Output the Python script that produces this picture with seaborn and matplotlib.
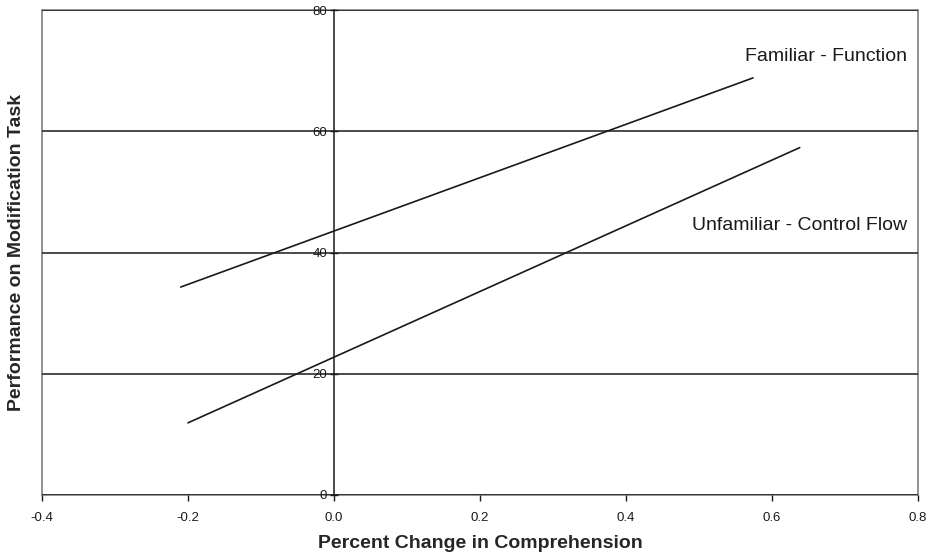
import matplotlib
matplotlib.use('Agg')
from matplotlib import pyplot as plt
import matplotlib.patches as patches
import pandas as pd
import seaborn as sns

# regression lines (end points)
series = ['Familiar - Function', 'Familiar - Function',
          'Unfamiliar - Control Flow', 'Unfamiliar - Control Flow']
pct_change = [-0.21, 0.574, -0.20, 0.638]
performance = [34.3, 68.8, 11.9, 57.3]

x_ticks = [-0.4, -0.2, 0.0, 0.2, 0.4, 0.6, 0.8]
x_labels = ['-0.4', '-0.2', '0.0', '0.2', '0.4', '0.6', '0.8']
y_ticks = [0, 20, 40, 60, 80]

df = pd.DataFrame({'series': series, 'x': pct_change, 'y': performance})

sns.set_style('white')
plt.rcParams['font.family'] = ['Liberation Sans', 'DejaVu Sans']

fig = plt.figure(figsize=(9.31, 5.59), dpi=100)
ax = fig.add_axes([0.0451, 0.1145, 0.9409, 0.8676])

for yv in y_ticks[1:]:
    ax.axhline(yv, color='#1a1a1a', lw=1.1, zorder=1)

sns.lineplot(data=df, x='x', y='y', units='series', estimator=None,
             color='#1a1a1a', lw=1.2, ax=ax, zorder=3)

ax.set_xlim(-0.4, 0.8)
ax.set_ylim(0, 80)
ax.set_xticks(x_ticks)
ax.set_xticklabels(x_labels)
ax.set_yticks(y_ticks)

for s in ['top', 'right', 'bottom']:
    ax.spines[s].set_visible(False)
ax.spines['left'].set_position(('data', 0))
ax.spines['left'].set_color('#1a1a1a')
ax.spines['left'].set_linewidth(1.1)
ax.add_patch(patches.Rectangle((0, 0), 1, 1, transform=ax.transAxes, fill=False,
                               edgecolor='#808080', lw=1.2, zorder=0, clip_on=False))
ax.axhline(0, color='#1a1a1a', lw=1.1, zorder=1)

ax.tick_params(axis='y', direction='inout', length=6, width=1, labelsize=9.5,
               colors='#1a1a1a', pad=2)
ax.tick_params(axis='x', direction='out', length=4, width=1, labelsize=9.5,
               colors='#1a1a1a', pad=8)
ax.xaxis.set_ticks_position('bottom')
ax.yaxis.set_ticks_position('left')

ax.set_xlabel('Percent Change in Comprehension', fontsize=14, fontweight='bold')
ax.set_ylabel('Performance on Modification Task', fontsize=14, fontweight='bold')
ax.yaxis.set_label_coords(-0.0194, 0.5)
ax.xaxis.set_label_coords(0.5, -0.083)

ax.text(0.785, 72.3, 'Familiar - Function', ha='right', va='center', fontsize=14, color='#1a1a1a')
ax.text(0.785, 44.4, 'Unfamiliar - Control Flow', ha='right', va='center', fontsize=14, color='#1a1a1a')

fig.savefig('out.png', dpi=100)
